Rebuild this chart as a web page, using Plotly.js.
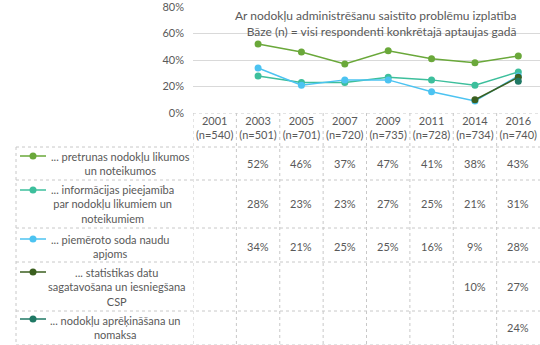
<!DOCTYPE html>
<html>
<head>
<meta charset="utf-8">
<script src="https://cdn.plot.ly/plotly-3.0.1.min.js"></script>
<style>html,body{margin:0;padding:0;background:#fff;}#chart{width:540px;height:345px;}</style>
</head>
<body>
<div id="chart"></div>
<script>
// ---- data ----
var years = ['2001', '2003', '2005', '2007', '2009', '2011', '2014', '2016'];
var baseN = ['540', '501', '701', '720', '735', '728', '734', '740'];
var seriesNames = [
  '... pretrunas nodokļu likumos<br>un noteikumos',
  '... informācijas pieejamība<br>par nodokļu likumiem un<br>noteikumiem',
  '... piemēroto soda naudu<br>apjoms',
  '... statistikas datu<br>sagatavošana un iesniegšana<br>CSP',
  '... nodokļu aprēķināšana un<br>nomaksa'
];
var s1 = [null, 0.52, 0.46, 0.37, 0.47, 0.41, 0.38, 0.43];
var s2 = [null, 0.28, 0.23, 0.23, 0.27, 0.25, 0.21, 0.31];
var s3 = [null, 0.34, 0.21, 0.25, 0.25, 0.16, 0.09, 0.28];
var s4 = [null, null, null, null, null, null, 0.10, 0.27];
var s5 = [null, null, null, null, null, null, null, 0.24];
var yTicks = [0, 0.2, 0.4, 0.6, 0.8];
var titleLines = ['Ar nodokļu administrēšanu saistīto problēmu izplatība',
                  'Bāze (n) = visi respondenti konkrētajā aptaujas gadā'];

// ---- styling / layout constants ----
var colors = ['#6aa83a', '#3dbf9c', '#4cc3f1', '#3b5f1f', '#1f7864'];
var allSeries = [s1, s2, s3, s4, s5];
var W = 540, H = 345, T = 7;
var plotLeft = 193, plotBottom = 113;
var rowEdges = [147, 180, 228, 262, 311, 345];
var rowValueY = [163, 203, 246, 286, 327];
var rowKeyY = [156, 190, 239, 272, 319];
var rowTextX = [120, 112, 110, 117, 115];
var rowTextY = [163, 204, 246, 287, 327];
var gray = '#595959';
var gridCol = '#c8c8c8';
var FONT = 'Lato, "Liberation Sans", sans-serif';

var cats = years.map(function (y, i) { return y + '<br>(n=' + baseN[i] + ')'; });
var pct = function (v) { return Math.round(v * 100) + '%'; };

var traces = allSeries.map(function (s, k) {
  return {
    type: 'scatter', mode: 'lines+markers', x: cats, y: s,
    line: {color: colors[k], width: 1.5},
    marker: {color: colors[k], size: 7},
    showlegend: false, hoverinfo: 'skip', cliponaxis: false
  };
});

// legend keys in table
allSeries.forEach(function (s, k) {
  traces.push({
    type: 'scatter', mode: 'lines', xaxis: 'x2', yaxis: 'y2',
    x: [20, 46], y: [rowKeyY[k], rowKeyY[k]],
    line: {color: colors[k], width: 1.5}, showlegend: false, hoverinfo: 'skip'
  });
  traces.push({
    type: 'scatter', mode: 'markers', xaxis: 'x2', yaxis: 'y2',
    x: [33], y: [rowKeyY[k]],
    marker: {color: colors[k], size: 7}, showlegend: false, hoverinfo: 'skip'
  });
});

var shapes = [];
var dotLine = {color: gridCol, width: 1, dash: 'dot'};
shapes.push({type: 'line', xref: 'x2', yref: 'y2', x0: plotLeft, x1: W, y0: plotBottom, y1: plotBottom, line: dotLine});
rowEdges.forEach(function (y) {
  shapes.push({type: 'line', xref: 'x2', yref: 'y2', x0: 16, x1: W, y0: y, y1: y, line: dotLine});
});
shapes.push({type: 'line', xref: 'x2', yref: 'y2', x0: 16, x1: 16, y0: rowEdges[0], y1: H, line: dotLine});
for (var i = 0; i < years.length; i++) {
  shapes.push({type: 'line', xref: 'x', yref: 'y2', x0: i - 0.5, x1: i - 0.5, y0: plotBottom, y1: H, line: dotLine});
}

var plotH = H - T;
var yBottomFrac = (H - plotBottom) / plotH;
var pxToPaperY = function (py) { return (H - py) / plotH; };

var annotations = [];
annotations.push({
  xref: 'paper', yref: 'paper', x: 518 / W, y: pxToPaperY(23.5), xanchor: 'right', yanchor: 'middle', align: 'right',
  text: titleLines.join('<br>'), showarrow: false,
  font: {family: FONT, size: 12, color: gray}
});
seriesNames.forEach(function (nm, k) {
  annotations.push({
    xref: 'x2', yref: 'y2', x: rowTextX[k], y: rowTextY[k], xanchor: 'center', yanchor: 'middle', align: 'center',
    text: nm, showarrow: false, font: {family: FONT, size: 11, color: gray}
  });
});
allSeries.forEach(function (s, k) {
  s.forEach(function (v, i) {
    if (v === null) return;
    annotations.push({
      xref: 'x', yref: 'y2', x: i, y: rowValueY[k], xanchor: 'center', yanchor: 'middle',
      text: pct(v), showarrow: false, font: {family: FONT, size: 11, color: gray}
    });
  });
});

var layout = {
  width: W, height: H,
  margin: {l: 0, r: 0, t: T, b: 0},
  paper_bgcolor: '#fff', plot_bgcolor: 'rgba(0,0,0,0)',
  font: {family: FONT, size: 11, color: gray},
  xaxis: {
    type: 'category', domain: [plotLeft / W, 1], range: [-0.5, 7.5], anchor: 'y',
    showgrid: false, zeroline: false, showline: false, ticks: '',
    tickfont: {family: FONT, size: 11, color: gray}, fixedrange: true
  },
  yaxis: {
    domain: [yBottomFrac, 1], range: [0, 0.8], tickmode: 'array', tickvals: yTicks,
    ticktext: yTicks.map(pct), anchor: 'x',
    showgrid: true, gridcolor: '#d9d9d9', gridwidth: 1, zeroline: false, showline: false, ticks: '',
    ticklabelstandoff: 8, ticklabeloverflow: 'allow',
    tickfont: {family: FONT, size: 11, color: gray}, fixedrange: true
  },
  xaxis2: {domain: [0, 1], range: [0, W], anchor: 'y2', visible: false, fixedrange: true},
  yaxis2: {domain: [0, yBottomFrac], range: [H, plotBottom], anchor: 'x2', visible: false, fixedrange: true},
  shapes: shapes,
  annotations: annotations
};

Plotly.newPlot('chart', traces, layout, {displayModeBar: false, staticPlot: true});
</script>
</body>
</html>
